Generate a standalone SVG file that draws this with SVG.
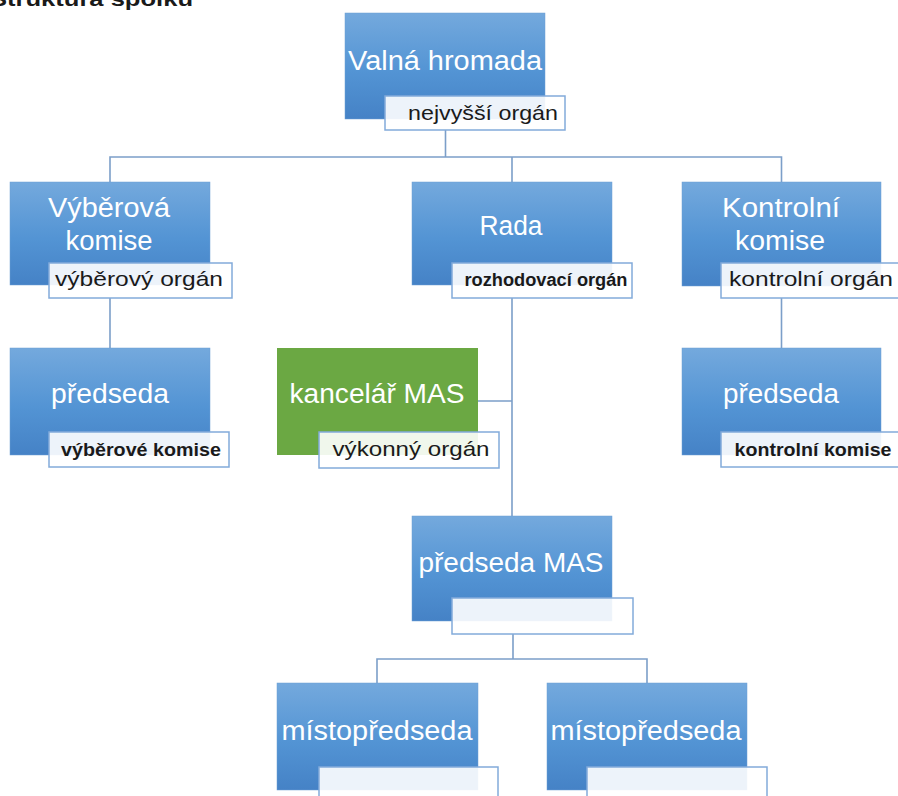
<svg xmlns="http://www.w3.org/2000/svg" width="898" height="796" viewBox="0 0 898 796">
<defs>
<linearGradient id="blue" x1="0" y1="0" x2="0" y2="1">
<stop offset="0" stop-color="#74A9DD"/>
<stop offset="0.55" stop-color="#5394D4"/>
<stop offset="1" stop-color="#4582C6"/>
</linearGradient>
</defs>
<style>
.box{fill:url(#blue);stroke:#6E9FD4;stroke-width:0.5}
.green{fill:#6BA843;stroke:none}
.lbl{fill:#FFFFFF;fill-opacity:0.9;stroke:#82ABDA;stroke-width:1.5}
.t{font-family:"Liberation Sans",Arial,sans-serif;font-size:27px;fill:#FFFFFF;text-anchor:middle}
.l{font-family:"Liberation Sans",Arial,sans-serif;font-size:21px;fill:#1A1A1A;text-anchor:middle}
.lb{font-family:"Liberation Sans",Arial,sans-serif;font-size:18px;font-weight:bold;fill:#1A1A1A;text-anchor:middle}
.c{fill:none;stroke:#7C9FC9;stroke-width:1.6}
</style>
<rect width="898" height="796" fill="#FFFFFF"/>
<text x="-10" y="6" font-family="'Liberation Sans',Arial,sans-serif" font-size="20" font-weight="bold" fill="#1A1A1A" textLength="203" lengthAdjust="spacingAndGlyphs">Struktura spolku</text>
<g id="connectors">
<path class="c" d="M445.5 130 V157 M110 182 V157 H781.5 V182 M512 157 V182"/>
<path class="c" d="M110 298 V348 M781.5 298 V348"/>
<path class="c" d="M512 298 V516 M478 401 H512"/>
<path class="c" d="M513 634 V659 M377 683 V659 H647 V683"/>
</g>
<g id="valna-hromada">
<rect class="box" x="345" y="13" width="200" height="106"/>
<text class="t" x="445" y="70" textLength="194" lengthAdjust="spacingAndGlyphs">Valná hromada</text>
<rect class="lbl" x="385" y="96" width="180" height="34"/>
<text class="l" x="483" y="120" textLength="150" lengthAdjust="spacingAndGlyphs">nejvyšší orgán</text>
</g>
<g id="vyberova-komise">
<rect class="box" x="10" y="182" width="200" height="103"/>
<text class="t" x="109" y="217" textLength="122" lengthAdjust="spacingAndGlyphs">Výběrová</text>
<text class="t" x="109" y="250" textLength="87" lengthAdjust="spacingAndGlyphs">komise</text>
<rect class="lbl" x="49" y="263" width="183" height="35"/>
<text class="l" x="139" y="286" textLength="168" lengthAdjust="spacingAndGlyphs">výběrový orgán</text>
</g>
<g id="rada">
<rect class="box" x="412" y="182" width="200" height="103"/>
<text class="t" x="511" y="235" textLength="63" lengthAdjust="spacingAndGlyphs">Rada</text>
<rect class="lbl" x="452" y="263" width="180" height="35"/>
<text class="lb" x="546" y="286" textLength="163" lengthAdjust="spacingAndGlyphs">rozhodovací orgán</text>
</g>
<g id="kontrolni-komise">
<rect class="box" x="682" y="182" width="199" height="104"/>
<text class="t" x="781" y="217" textLength="118" lengthAdjust="spacingAndGlyphs">Kontrolní</text>
<text class="t" x="780" y="250" textLength="90" lengthAdjust="spacingAndGlyphs">komise</text>
<rect class="lbl" x="721" y="263" width="181" height="35"/>
<text class="l" x="811" y="286" textLength="164" lengthAdjust="spacingAndGlyphs">kontrolní orgán</text>
</g>
<g id="predseda-vyberove-komise">
<rect class="box" x="10" y="348" width="200" height="107"/>
<text class="t" x="110" y="403" textLength="118" lengthAdjust="spacingAndGlyphs">předseda</text>
<rect class="lbl" x="49" y="432" width="180" height="35"/>
<text class="lb" x="141" y="456" textLength="160" lengthAdjust="spacingAndGlyphs">výběrové komise</text>
</g>
<g id="kancelar-mas">
<rect class="green" x="277" y="348" width="201" height="107"/>
<text class="t" x="377" y="403" textLength="175" lengthAdjust="spacingAndGlyphs">kancelář MAS</text>
<rect class="lbl" x="319" y="432" width="180" height="36"/>
<text class="l" x="411" y="456" textLength="157" lengthAdjust="spacingAndGlyphs">výkonný orgán</text>
</g>
<g id="predseda-kontrolni-komise">
<rect class="box" x="682" y="348" width="199" height="107"/>
<text class="t" x="781" y="403" textLength="116" lengthAdjust="spacingAndGlyphs">předseda</text>
<rect class="lbl" x="721" y="432" width="181" height="35"/>
<text class="lb" x="813" y="456" textLength="157" lengthAdjust="spacingAndGlyphs">kontrolní komise</text>
</g>
<g id="predseda-mas">
<rect class="box" x="412" y="516" width="200" height="105"/>
<text class="t" x="511" y="572" textLength="185" lengthAdjust="spacingAndGlyphs">předseda MAS</text>
<rect class="lbl" x="452" y="598" width="181" height="36"/>
</g>
<g id="mistopredseda-1">
<rect class="box" x="277" y="683" width="201" height="107"/>
<text class="t" x="377" y="740" textLength="191" lengthAdjust="spacingAndGlyphs">místopředseda</text>
<rect class="lbl" x="319" y="767" width="179" height="36"/>
</g>
<g id="mistopredseda-2">
<rect class="box" x="547" y="683" width="200" height="107"/>
<text class="t" x="646" y="740" textLength="191" lengthAdjust="spacingAndGlyphs">místopředseda</text>
<rect class="lbl" x="587" y="767" width="180" height="36"/>
</g>
</svg>
